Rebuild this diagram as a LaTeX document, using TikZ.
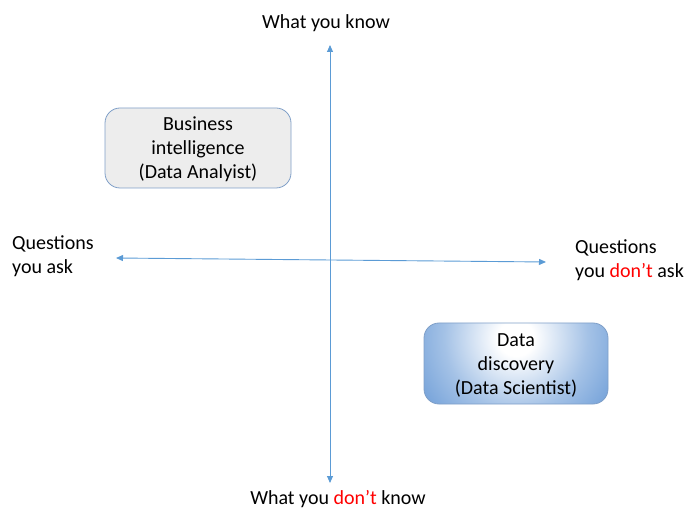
\documentclass[tikz,border=0pt]{standalone}
\usepackage{fontspec}
\setmainfont{Carlito}
\usetikzlibrary{arrows.meta}
\definecolor{axisblue}{HTML}{5B9BD5}
\definecolor{boxborder}{HTML}{7F9FC8}
\definecolor{boxgray}{HTML}{EDEDED}
\definecolor{ddblue}{HTML}{5A90D2}
\definecolor{dontred}{HTML}{FF0000}
\pgfdeclareradialshading{ddshade}{\pgfpoint{0bp}{0bp}}{color(0bp)=(white); color(4bp)=(white); color(16bp)=(ddblue!55); color(30bp)=(ddblue); color(50bp)=(ddblue)}
\tikzset{
  axis/.style={draw=axisblue, line width=0.9pt, {Triangle[length=7pt,width=6pt]}-{Triangle[length=7pt,width=6pt]}},
  lbl/.style={font=\fontsize{20}{24}\selectfont, inner sep=0pt, align=center},
  lbll/.style={font=\fontsize{20}{24}\selectfont, inner sep=0pt, align=left, anchor=west},
  quad/.style={rounded corners=15pt, draw=boxborder, line width=0.8pt},
}
\newcommand{\dnt}{\textcolor{dontred}{don’t}}
\begin{document}
\begin{tikzpicture}[x=1pt,y=-1pt]
\useasboundingbox (0,0) rectangle (685,510);
\coordinate (top) at (330,45);
\coordinate (bot) at (330,483);
\coordinate (left) at (116,258);
\coordinate (right) at (546,262);
\draw[axis] (bot) -- (top);
\draw[axis] (left) -- (right);
\node[lbl] (know) at (326,23.5) {What you know};
\node[lbl] (dontknow) at (338,499.5) {What you \dnt{} know};
\node[lbll] (ask) at (12,256.5) {Questions\\you ask};
\node[lbll] (dontask) at (575,260.5) {Questions\\you \dnt{} ask};
\path[quad, fill=boxgray] (105,108) rectangle (291,188);
\node[lbl] (bi) at (198,149.5) {Business\\intelligence\\(Data Analyist)};
\begin{scope}
  \clip[rounded corners=15pt] (424,323) rectangle (608,404);
  \shade[shading=ddshade] (516,338) circle[radius=112];
\end{scope}
\draw[quad] (424,323) rectangle (608,404);
\node[lbl] (dd) at (516,365.5) {Data\\discovery\\(Data Scientist)};
\end{tikzpicture}
\end{document}
